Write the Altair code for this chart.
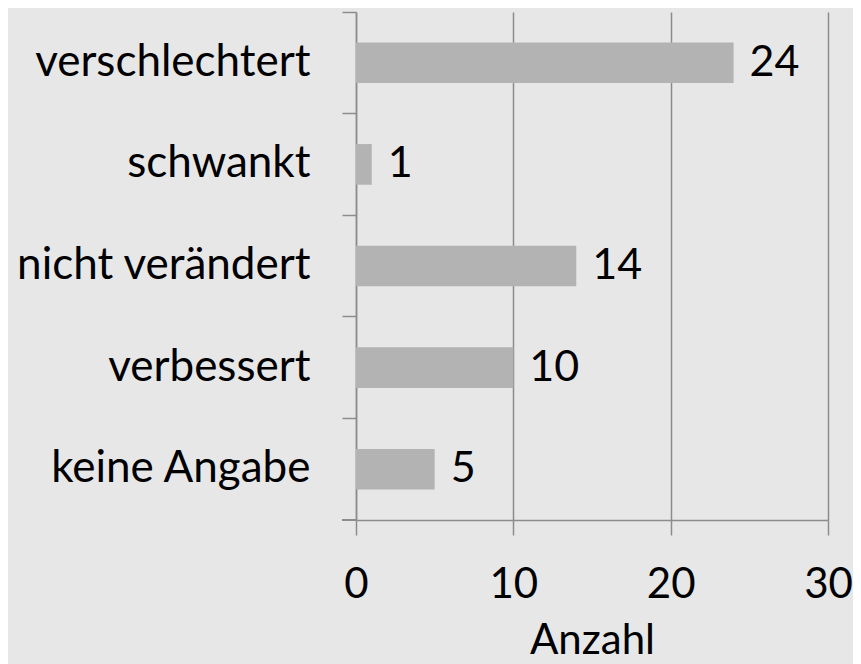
import altair as alt
import pandas as pd

categories = ["verschlechtert", "schwankt", "nicht verändert", "verbessert", "keine Angabe"]
values = [24, 1, 14, 10, 5]

df = pd.DataFrame({"Kategorie": categories, "Anzahl": values})

FONT = "Lato"
FS = 43
GRID = "#8c8c8c"

y_enc = alt.Y(
    "Kategorie:N",
    sort=categories,
    scale=alt.Scale(paddingInner=0, paddingOuter=0),
    axis=alt.Axis(
        title=None,
        bandPosition=0,
        domainColor=GRID,
        domainWidth=1.5,
        tickColor=GRID,
        tickWidth=1.5,
        tickSize=14,
        labelFont=FONT,
        labelFontSize=44,
        labelColor="black",
        labelPadding=32,
        labelLimit=500,
        grid=False,
    ),
)

x_enc = alt.X(
    "Anzahl:Q",
    scale=alt.Scale(domain=[0, 30], nice=False),
    axis=alt.Axis(
        values=[0, 10, 20, 30],
        title="Anzahl",
        titleFont=FONT,
        titleFontSize=42,
        titleFontWeight="normal",
        titleColor="black",
        titlePadding=15,
        labelFont=FONT,
        labelFontSize=42,
        labelColor="black",
        labelPadding=29,
        labelFlush=False,
        labelOverlap=False,
        domainColor=GRID,
        domainWidth=1.5,
        tickColor=GRID,
        tickWidth=1.5,
        tickSize=15,
        grid=True,
        gridColor=GRID,
        gridWidth=1.5,
    ),
)

bars = alt.Chart(df).mark_bar(color="#b3b3b3", height={"band": 0.4}).encode(x=x_enc, y=y_enc)

labels = alt.Chart(df).mark_text(
    align="left", baseline="middle", dx=16, font=FONT, fontSize=FS, color="black"
).encode(x="Anzahl:Q", y=alt.Y("Kategorie:N", sort=categories), text="Anzahl:Q")

bottom_tick = alt.Chart(df).mark_rule(color=GRID, strokeWidth=1.5).encode(
    x=alt.value(-14), x2=alt.value(0), y=alt.value(508)
)

chart = (
    alt.layer(bars, labels, bottom_tick)
    .properties(
        width=472,
        height=508,
        background="#e7e7e7",
        padding={"left": 348, "top": 4, "right": 25, "bottom": 160},
        autosize=alt.AutoSizeParams(type="none"),
    )
    .configure_view(stroke=None)
)

chart.save("out.html", embed_options={"renderer": "svg", "actions": False})
